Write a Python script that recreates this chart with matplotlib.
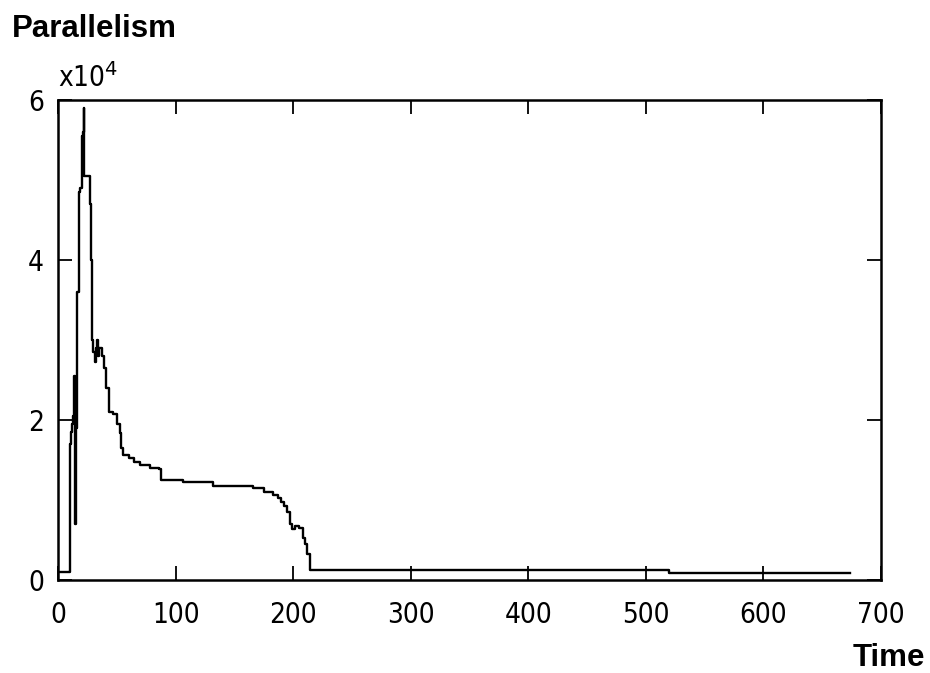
import matplotlib
matplotlib.use("Agg")
import matplotlib.pyplot as plt
from matplotlib import font_manager

# ---- data ----
time = [0, 9.5, 10, 11, 12, 13, 14, 14.5, 15, 15.5, 16.5, 17.5, 18.2, 19, 20, 21, 22,
        22.5, 26.5, 27.2, 28, 28.7, 30, 31.5, 32.5, 33.3, 34, 35, 37, 39, 41, 43.5,
        47, 50, 52.5, 54, 55, 60, 65, 70, 78, 86, 88, 106, 132, 166, 175, 183, 187,
        190, 192, 195, 197, 199, 202, 205, 208, 210, 212, 214, 519, 520, 674]
parallelism = [1000, 1000, 17000, 18500, 19500, 20500, 25500, 7000, 17000, 19000, 36000,
               42000, 48500, 49000, 55500, 56000, 59000,
               50500, 50500, 47000, 40000, 30000, 28500, 27200, 29000, 30000, 28000, 29000,
               28000, 26500, 24000, 21000,
               20800, 19500, 18400, 16500, 15600, 15300, 14700, 14400, 14000, 13900, 12500,
               12200, 11800, 11500, 11000, 10600, 10300,
               9800, 9300, 8500, 7000, 6400, 6800, 6500, 5200, 4500, 3200, 1300, 1300, 850, 850]
xticks = [0, 100, 200, 300, 400, 500, 600, 700]
yticks = [0, 20000, 40000, 60000]
ytick_labels = ["0", "2", "4", "6"]

names = {f.name for f in font_manager.fontManager.ttflist}
if "Liberation Sans Narrow" in names:
    fam = "Liberation Sans Narrow"
    tfont = dict(family=fam, size=24)
else:
    fam = "DejaVu Sans"
    tfont = dict(family=fam, stretch="condensed", size=20)
plt.rcParams["mathtext.fontset"] = "custom"
plt.rcParams["mathtext.rm"] = fam
bold = dict(family=["Liberation Sans", "DejaVu Sans"], weight="bold", size=22.5)

fig = plt.figure(figsize=(9.3, 6.73), dpi=100)
ax = fig.add_axes([58/930, 1-580/673, (881-58)/930, (580-100)/673])
ax.plot(time, parallelism, color="black", lw=1.7, drawstyle="steps-post")
ax.set_xlim(0, 700)
ax.set_ylim(0, 60000)
ax.set_xticks(xticks)
ax.set_xticklabels([str(v) for v in xticks], fontdict=tfont)
ax.set_yticks(yticks)
ax.set_yticklabels(ytick_labels, fontdict=tfont)
ax.tick_params(direction="in", length=10, width=1.3, top=True, right=True)
ax.tick_params(axis="x", pad=15)
ax.tick_params(axis="y", pad=10)
for s in ax.spines.values():
    s.set_linewidth(1.8)

ax.annotate(r"x10$^{\mathrm{4}}$", xy=(0, 1), xycoords="axes fraction", xytext=(0, 5),
            textcoords="offset points", ha="left", va="bottom", **tfont)

fig.text(12/930, 1-37/673, "Parallelism", ha="left", va="baseline", **bold)
fig.text(925/930, 1-666/673, "Time", ha="right", va="baseline", **bold)

fig.savefig("out.png", dpi=100)
